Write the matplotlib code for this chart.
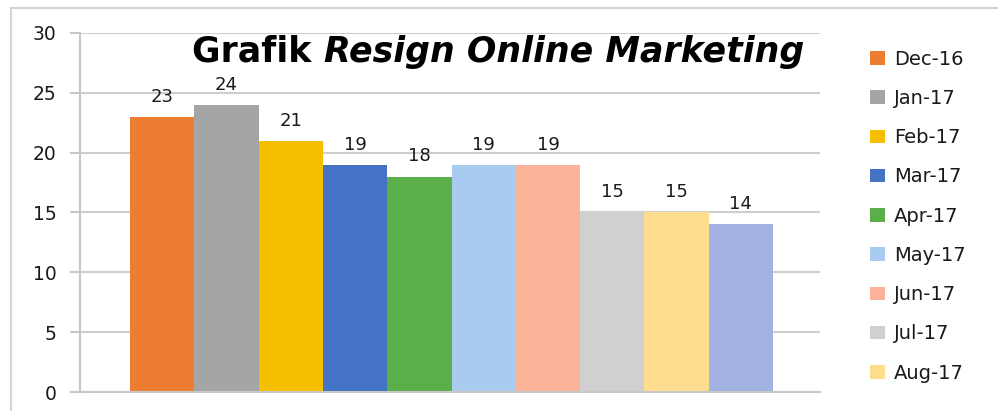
import matplotlib.pyplot as plt
from matplotlib.patches import Patch, Rectangle

# data
months = ['Dec-16', 'Jan-17', 'Feb-17', 'Mar-17', 'Apr-17', 'May-17',
          'Jun-17', 'Jul-17', 'Aug-17', 'Sep-17']
resign = [23, 24, 21, 19, 18, 19, 19, 15, 15, 14]
colors = ['#ED7D31', '#A5A5A5', '#F5BF00', '#4472C4', '#5AAF4A',
          '#A9CBEF', '#FBB499', '#D0D0D0', '#FFDD8F', '#A3B3E1']
legend_count = 9  # the last entry is cut off in the original


def main():
    plt.rcParams['font.family'] = 'DejaVu Sans'
    fig = plt.figure(figsize=(9.98, 4.11), dpi=100)

    # outer chart frame
    fig.patches.append(Rectangle((11 / 998, -0.05), 1.2, (411 - 8) / 411 + 0.05,
                                 transform=fig.transFigure, fill=False,
                                 edgecolor='#D4D4D4', linewidth=1.5))

    ax = fig.add_axes([80 / 998, 19 / 411, 740 / 998, 359 / 411])
    x = list(range(len(months)))
    bars = ax.bar(x, resign, width=1.0, color=colors, zorder=2)
    ax.bar_label(bars, padding=8, fontsize=13, color='#1a1a1a')

    ax.set_ylim(0, 30)
    ax.set_xlim(-1.28, 10.23)
    ax.set_yticks(range(0, 31, 5))
    ax.set_xticks([])
    ax.tick_params(axis='y', length=7, width=1.5, color='#C8C8C8',
                   pad=10, labelsize=13.5, labelcolor='#1a1a1a')
    ax.yaxis.grid(True, color='#CDCDCD', linewidth=1.5, zorder=0)
    for side in ['top', 'right']:
        ax.spines[side].set_visible(False)
    ax.spines['left'].set_color('#C8C8C8')
    ax.spines['left'].set_linewidth(1.5)
    ax.spines['bottom'].set_color('#C8C8C8')
    ax.spines['bottom'].set_linewidth(1.5)

    # title: plain bold + bold italic
    t1 = ax.text((192 - 80) / 740, (392 - 62) / 359, 'Grafik ',
                 transform=ax.transAxes, fontsize=25, fontweight='bold',
                 va='baseline', ha='left', zorder=5)
    ax.annotate('Resign Online Marketing', xy=(1, 0), xycoords=t1,
                fontsize=25, fontweight='bold', fontstyle='italic',
                va='bottom', ha='left', zorder=5)

    handles = [Patch(facecolor=colors[i], label=months[i])
               for i in range(legend_count)]
    fig.legend(handles=handles, loc='upper left',
               bbox_to_anchor=(862 / 998, 1 - 42 / 411), frameon=False,
               fontsize=14, labelcolor='#1a1a1a', handlelength=0.8,
               handleheight=0.7, handletextpad=0.45, labelspacing=1.04,
               borderaxespad=0)

    fig.savefig('out.png', dpi=100)


if __name__ == "__main__":
    main()
